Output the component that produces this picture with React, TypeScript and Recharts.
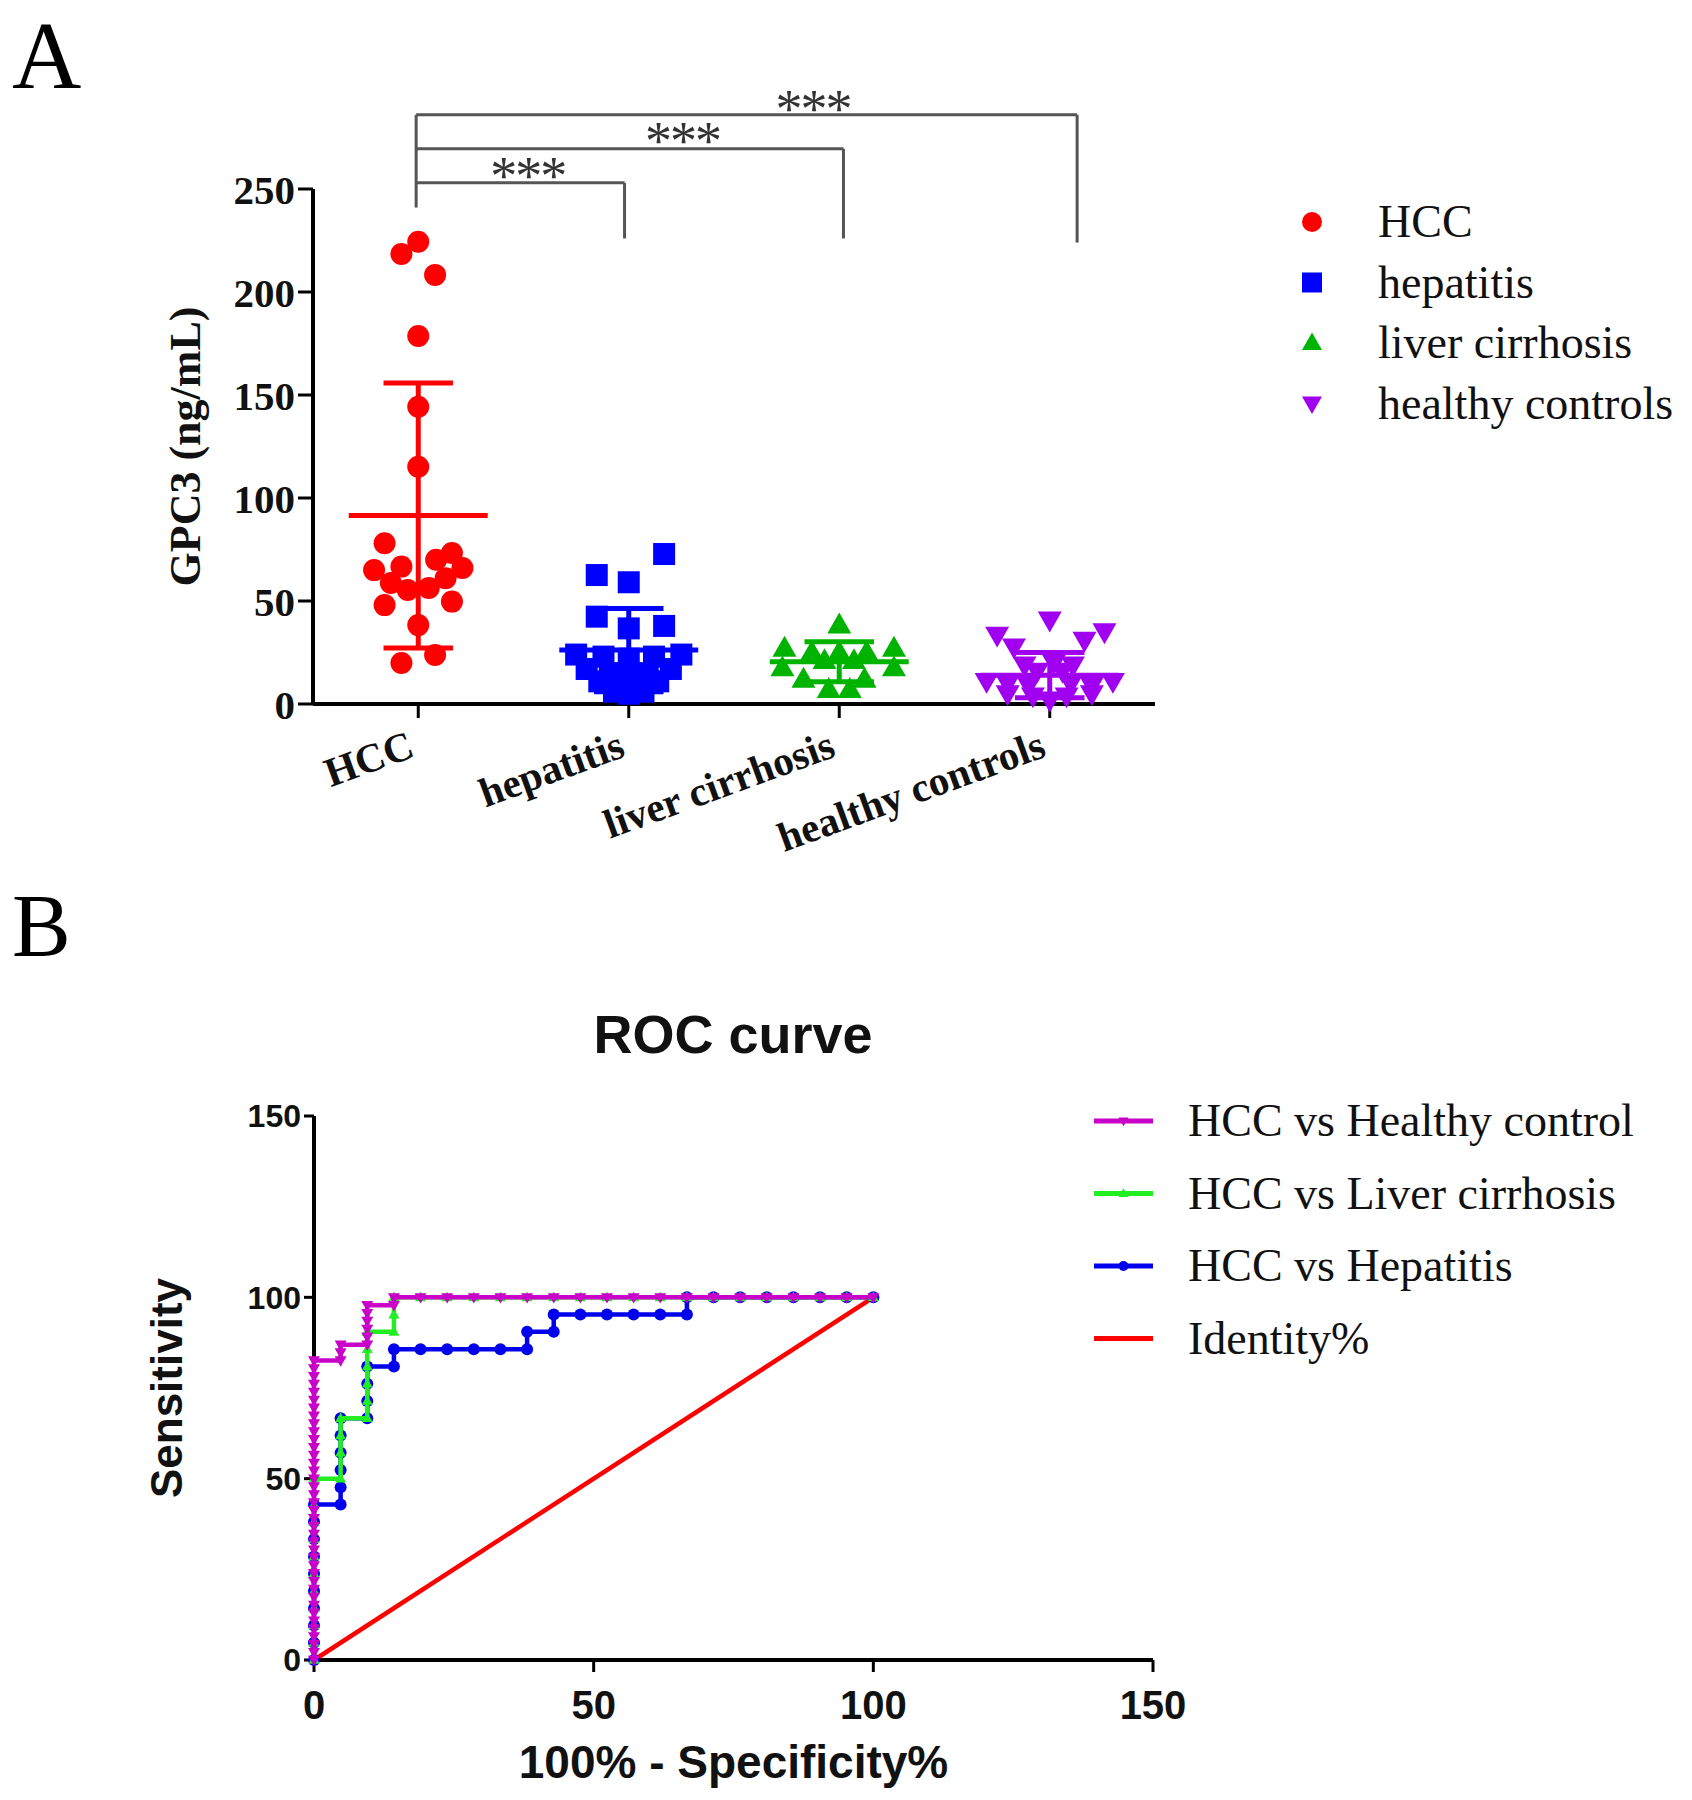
import React from 'react';
import { ScatterChart, Scatter, XAxis, YAxis, ReferenceLine, ReferenceDot, Legend } from 'recharts';

const SERIF = '"Liberation Serif", "Times New Roman", serif';
const SANS = '"Liberation Sans", Arial, Helvetica, sans-serif';

// ---- panel A: GPC3 by group ----
const groups = ['HCC', 'hepatitis', 'liver cirrhosis', 'healthy controls'];
const groupColors = ['#ff0000', '#0000ff', '#00b300', '#a100f0'];
const gpcTicks = [0, 50, 100, 150, 200, 250];

const hccValues = [224.4, 218.4, 208.3, 178.6, 144.3, 115.2, 78.0, 65.0, 66.7, 73.3, 70.0, 66.0, 61.0, 58.7, 55.3, 56.3, 48.0, 49.7, 38.3, 19.9, 23.8];
const hccJitter = [0, -0.08, 0.08, 0, 0, 0, -0.16, -0.21, -0.08, 0.16, 0.085, 0.21, 0.13, -0.13, -0.05, 0.05, -0.16, 0.16, 0, -0.08, 0.08];

const hepatitisValues = [72.8, 62.6, 59.1, 42.4, 36.7, 37.9, 24, 23, 22, 23, 24, 17, 15, 15, 17, 11, 11, 6, 5, 6, 13];
const hepatitisJitter = [0.168, -0.152, 0, -0.152, 0, 0.168, -0.25, -0.12, 0, 0.12, 0.25, -0.2, -0.09, 0.09, 0.2, -0.14, 0.14, -0.07, 0, 0.07, 0];

const cirrhosisValues = [38.3, 27, 27, 25, 25, 25, 21, 21, 17.5, 17.5, 12, 12, 7, 7];
const cirrhosisJitter = [0, -0.26, 0.26, -0.13, 0, 0.13, -0.07, 0.07, -0.27, 0.26, -0.17, 0.12, -0.05, 0.05];

const healthyValues = [40.8, 33.5, 35.1, 31, 27.8, 19, 20, 19, 16, 16, 11, 10, 9, 10, 9, 11, 5, 4, 4, 5, 2];
const healthyJitter = [0, -0.25, 0.26, 0.165, -0.17, -0.12, 0.02, 0.11, -0.06, 0.06, -0.3, -0.2, -0.1, 0.1, 0.2, 0.3, -0.2, -0.08, 0.08, 0.2, 0];

const groupMeans = [91.5, 26.2, 20.5, 14.0];
const groupSds = [64.3, 20.2, 9.7, 11.0];

// significance brackets (axis units)
const brackets = [
  { to: 1.48, level: 253, leg: 226, starX: 1.02, starY: 260 },
  { to: 2.52, level: 269.5, leg: 226, starX: 1.755, starY: 277 },
  { to: 3.63, level: 286, leg: 224, starX: 2.375, starY: 292.7 },
];
const bracketStart = 0.49;

// ---- panel B: ROC curves (100 - specificity, sensitivity) ----
const rocTicks = [0, 50, 100, 150];

const rocHealthy = [
  [0, 0], [0, 2.17], [0, 4.35], [0, 6.52], [0, 8.7], [0, 10.87], [0, 13.04], [0, 15.22], [0, 17.39], [0, 19.57],
  [0, 21.74], [0, 23.91], [0, 26.09], [0, 28.26], [0, 30.43], [0, 32.61], [0, 34.78], [0, 36.96], [0, 39.13], [0, 41.3],
  [0, 43.48], [0, 45.65], [0, 47.83], [0, 50], [0, 52.17], [0, 54.35], [0, 56.52], [0, 58.7], [0, 60.87], [0, 63.04],
  [0, 65.22], [0, 67.39], [0, 69.57], [0, 71.74], [0, 73.91], [0, 76.09], [0, 78.26], [0, 80.43], [0, 82.61],
  [4.76, 82.61], [4.76, 84.78], [4.76, 86.96], [9.52, 86.96], [9.52, 89.13], [9.52, 91.3], [9.52, 93.48], [9.52, 95.65], [9.52, 97.83],
  [14.29, 97.83], [14.29, 100], [19.05, 100], [23.81, 100], [28.57, 100], [33.33, 100], [38.1, 100], [42.86, 100], [47.62, 100],
  [52.38, 100], [57.14, 100], [61.9, 100], [66.67, 100], [71.43, 100], [76.19, 100], [80.95, 100], [85.71, 100], [90.48, 100],
  [95.24, 100], [100, 100],
];

const rocCirrhosis = [
  [0, 0], [0, 4.76], [0, 9.52], [0, 14.29], [0, 19.05], [0, 23.81], [0, 28.57], [0, 33.33], [0, 38.1], [0, 42.86], [0, 50],
  [4.76, 50], [4.76, 57.14], [4.76, 61.9], [4.76, 66.67], [9.52, 66.67], [9.52, 71.43], [9.52, 76.19], [9.52, 80.95],
  [9.52, 85.71], [9.52, 90.48], [14.29, 90.48], [14.29, 95.24], [14.29, 100], [19.05, 100], [23.81, 100], [28.57, 100],
  [33.33, 100], [38.1, 100], [42.86, 100], [47.62, 100], [52.38, 100], [57.14, 100], [61.9, 100], [66.67, 100],
  [71.43, 100], [76.19, 100], [80.95, 100], [85.71, 100], [90.48, 100], [95.24, 100], [100, 100],
];

const rocHepatitis = [
  [0, 0], [0, 4.76], [0, 9.52], [0, 14.29], [0, 19.05], [0, 23.81], [0, 28.57], [0, 33.33], [0, 38.1], [0, 42.86],
  [4.76, 42.86], [4.76, 47.62], [4.76, 52.38], [4.76, 57.14], [4.76, 61.9], [4.76, 66.67],
  [9.52, 66.67], [9.52, 71.43], [9.52, 76.19], [9.52, 80.95], [14.29, 80.95], [14.29, 85.71],
  [19.05, 85.71], [23.81, 85.71], [28.57, 85.71], [33.33, 85.71], [38.1, 85.71], [38.1, 90.48], [42.86, 90.48], [42.86, 95.24],
  [47.62, 95.24], [52.38, 95.24], [57.14, 95.24], [61.9, 95.24], [66.67, 95.24], [66.67, 100],
  [71.43, 100], [76.19, 100], [80.95, 100], [85.71, 100], [90.48, 100], [95.24, 100], [100, 100],
];

const rocIdentity = [[0, 0], [100, 100]];

const rocNames = ['HCC vs Healthy control', 'HCC vs Liver cirrhosis', 'HCC vs Hepatitis', 'Identity%'];
const rocColors = ['#c800c8', '#22ee22', '#0000ee', '#ff0000'];

const toPoints = (values: number[], jitter: number[], gi: number) =>
  values.map((v, i) => ({ x: gi + 0.5 + jitter[i], y: v }));
const pairs = (arr: number[][]) => arr.map(([x, y]) => ({ x, y }));

// marker shapes
const drawMarker = (kind: string, cx: number, cy: number, s: number, color: string) => {
  if (kind === 'circle') return <circle cx={cx} cy={cy} r={s / 2} fill={color} />;
  if (kind === 'square') return <rect x={cx - s / 2} y={cy - s / 2} width={s} height={s} fill={color} />;
  if (kind === 'up') {
    const h = s * 0.87;
    return <polygon points={`${cx},${cy - h * 0.6} ${cx + s / 2},${cy + h * 0.4} ${cx - s / 2},${cy + h * 0.4}`} fill={color} />;
  }
  if (kind === 'down') {
    const h = s * 0.87;
    return <polygon points={`${cx},${cy + h * 0.6} ${cx + s / 2},${cy - h * 0.4} ${cx - s / 2},${cy - h * 0.4}`} fill={color} />;
  }
  return <g />;
};
const shapeOf = (kind: string, s: number, color: string) => (p: any) => drawMarker(kind, p.cx, p.cy, s, color);

const groupShapes = ['circle', 'square', 'up', 'down'];
const groupSizes = [22, 22, 24, 24];
const rocShapes = ['down', 'up', 'circle', 'none'];

const CategoryTick = (props: any) => {
  const { x, y, payload } = props;
  const idx = Math.round(payload.value - 0.5);
  const ax = x - 2;
  const ay = y + 38;
  return (
    <text x={ax} y={ay} transform={`rotate(-20 ${ax} ${ay})`} textAnchor="end" fontFamily={SERIF} fontWeight="bold" fontSize={41} fill="#111">
      {groups[idx]}
    </text>
  );
};

const LegendA = () => (
  <svg width={420} height={260} style={{ overflow: 'visible' }}>
    {groups.map((g, i) => {
      const cy = 42 + i * 60.5;
      return (
        <g key={g}>
          {drawMarker(groupShapes[i], 32, cy, 20, groupColors[i])}
          <text x={98} y={cy + 15} fontFamily={SERIF} fontSize={46} fill="#111">{g}</text>
        </g>
      );
    })}
  </svg>
);

const LegendB = () => (
  <svg width={600} height={290} style={{ overflow: 'visible' }}>
    {rocNames.map((n, i) => {
      const cy = 31 + i * 72.5;
      return (
        <g key={n}>
          <line x1={14} x2={73} y1={cy} y2={cy} stroke={rocColors[i]} strokeWidth={5} />
          {drawMarker(rocShapes[i], 43.5, cy, 10, rocColors[i])}
          <text x={108} y={cy + 15} fontFamily={SERIF} fontSize={46} fill="#111">{n}</text>
        </g>
      );
    })}
  </svg>
);

const axisLine = { stroke: '#000', strokeWidth: 4 };
const tickLine = { stroke: '#000', strokeWidth: 3 };

function PanelA() {
  const series = [
    toPoints(hccValues, hccJitter, 0),
    toPoints(hepatitisValues, hepatitisJitter, 1),
    toPoints(cirrhosisValues, cirrhosisJitter, 2),
    toPoints(healthyValues, healthyJitter, 3),
  ];
  return (
    <ScatterChart width={1692} height={860} margin={{ top: 189, right: 537, bottom: 36, left: 213 }}>
      <XAxis type="number" dataKey="x" domain={[0, 4]} ticks={[0.5, 1.5, 2.5, 3.5]} height={120}
        tickSize={14} tickMargin={0} axisLine={axisLine} tickLine={tickLine} tick={CategoryTick} interval={0} />
      <YAxis type="number" dataKey="y" domain={[0, 250]} ticks={gpcTicks} width={100} tickSize={15} tickMargin={3}
        axisLine={axisLine} tickLine={tickLine} interval={0}
        tick={{ fontFamily: SERIF, fontWeight: 'bold', fontSize: 41, fill: '#111' }}
        label={{ value: 'GPC3 (ng/mL)', angle: -90, position: 'left', offset: 29, style: { textAnchor: 'middle' }, fontFamily: SERIF, fontWeight: 'bold', fontSize: 44, fill: '#111' }} />
      {series.map((pts, i) => (
        <Scatter key={groups[i]} name={groups[i]} data={pts} fill={groupColors[i]}
          shape={shapeOf(groupShapes[i], groupSizes[i], groupColors[i])} isAnimationActive={false} />
      ))}
      {groupMeans.map((m, i) => {
        const gx = i + 0.5;
        const sd = groupSds[i];
        const c = groupColors[i];
        return [
          <ReferenceLine key={`m${i}`} segment={[{ x: gx - 0.33, y: m }, { x: gx + 0.33, y: m }]} stroke={c} strokeWidth={5} ifOverflow="visible" />,
          <ReferenceLine key={`v${i}`} segment={[{ x: gx, y: m - sd }, { x: gx, y: m + sd }]} stroke={c} strokeWidth={5} ifOverflow="visible" />,
          <ReferenceLine key={`t${i}`} segment={[{ x: gx - 0.165, y: m + sd }, { x: gx + 0.165, y: m + sd }]} stroke={c} strokeWidth={5} ifOverflow="visible" />,
          <ReferenceLine key={`b${i}`} segment={[{ x: gx - 0.165, y: m - sd }, { x: gx + 0.165, y: m - sd }]} stroke={c} strokeWidth={5} ifOverflow="visible" />,
        ];
      })}
      <ReferenceLine segment={[{ x: bracketStart, y: 286 }, { x: bracketStart, y: 241 }]} stroke="#555" strokeWidth={3} ifOverflow="visible" />
      {brackets.map((b, i) => [
        <ReferenceLine key={`h${i}`} segment={[{ x: bracketStart, y: b.level }, { x: b.to, y: b.level }]} stroke="#555" strokeWidth={3} ifOverflow="visible" />,
        <ReferenceLine key={`r${i}`} segment={[{ x: b.to, y: b.level }, { x: b.to, y: b.leg }]} stroke="#555" strokeWidth={3} ifOverflow="visible" />,
        <ReferenceDot key={`s${i}`} x={b.starX} y={b.starY} ifOverflow="visible"
          shape={(p: any) => (
            <text x={p.cx} y={p.cy + 26} textAnchor="middle" fontFamily={SERIF} fontSize={54} fill="#333" letterSpacing={-2}>***</text>
          )} />,
      ])}
      <Legend content={LegendA} layout="horizontal" verticalAlign="middle" align="center"
        wrapperStyle={{ left: 1280, top: 180, width: 420, height: 260 }} />
    </ScatterChart>
  );
}

function PanelB() {
  const series = [pairs(rocIdentity), pairs(rocHepatitis), pairs(rocCirrhosis), pairs(rocHealthy)];
  const order = [3, 2, 1, 0];
  const markerSize = [0, 12, 11, 12];
  return (
    <ScatterChart width={1692} height={940} margin={{ top: 256, right: 539, bottom: 0, left: 214 }}>
      <XAxis type="number" dataKey="x" domain={[0, 150]} ticks={rocTicks} height={140} tickSize={12} tickMargin={19}
        axisLine={axisLine} tickLine={tickLine} interval={0}
        tick={{ fontFamily: SANS, fontWeight: 'bold', fontSize: 40, fill: '#111' }}
        label={{ value: '100% - Specificity%', position: 'insideBottom', offset: 22, fontFamily: SANS, fontWeight: 'bold', fontSize: 46, fill: '#111' }} />
      <YAxis type="number" dataKey="y" domain={[0, 150]} ticks={rocTicks} width={100} tickSize={10} tickMargin={3}
        axisLine={axisLine} tickLine={tickLine} interval={0}
        tick={{ fontFamily: SANS, fontWeight: 'bold', fontSize: 32, fill: '#111' }}
        label={{ value: 'Sensitivity', angle: -90, position: 'left', offset: 48, style: { textAnchor: 'middle' }, fontFamily: SANS, fontWeight: 'bold', fontSize: 44, fill: '#111' }} />
      {series.map((pts, i) => {
        const li = order[i];
        return (
          <Scatter key={rocNames[li]} name={rocNames[li]} data={pts} fill={rocColors[li]}
            line={{ stroke: rocColors[li], strokeWidth: 4.5 }}
            shape={shapeOf(rocShapes[li], markerSize[i], rocColors[li])} isAnimationActive={false} />
        );
      })}
      <Legend content={LegendB} layout="horizontal" verticalAlign="middle" align="center"
        wrapperStyle={{ left: 1080, top: 230, width: 600, height: 290 }} />
    </ScatterChart>
  );
}

export default function App() {
  return (
    <div style={{ position: 'absolute', left: 0, top: 0, width: 1692, height: 1800, background: '#fff', overflow: 'hidden' }}>
      <div style={{ position: 'absolute', left: 0, top: 0 }}>
        <PanelA />
      </div>
      <div style={{ position: 'absolute', left: 0, top: 860 }}>
        <PanelB />
      </div>
      <svg width={1692} height={1800} style={{ position: 'absolute', left: 0, top: 0, pointerEvents: 'none' }}>
        <text x={12} y={88} fontFamily={SERIF} fontSize={96} fill="#000">A</text>
        <text x={12} y={955} fontFamily={SERIF} fontSize={88} fill="#000">B</text>
        <text x={733} y={1053} textAnchor="middle" fontFamily={SANS} fontWeight="bold" fontSize={54} fill="#111">ROC curve</text>
      </svg>
    </div>
  );
}
